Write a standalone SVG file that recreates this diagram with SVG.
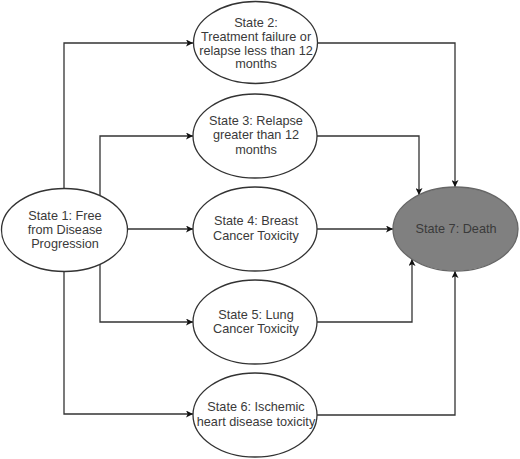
<svg xmlns="http://www.w3.org/2000/svg" width="520" height="459" viewBox="0 0 520 459">
<style>
.node{fill:#ffffff;stroke:#333333;stroke-width:1.3}
.dark{fill:#808080;stroke:#666666;stroke-width:1.3}
text{font-family:"Liberation Sans",Arial,sans-serif;font-size:12.7px;fill:#3a3a3a;text-anchor:middle}
.edge{fill:none;stroke:#333333;stroke-width:1.3}
</style>
<defs>
<marker id="arr" viewBox="0 0 10 10" refX="10" refY="5" markerWidth="7" markerHeight="7" markerUnits="userSpaceOnUse" orient="auto">
<path d="M0,0 L10,5 L0,10 L2.5,5 Z" fill="#111111"/>
</marker>
</defs>
<rect width="520" height="459" fill="#ffffff"/>
<g id="connectors">
<path class="edge" marker-end="url(#arr)" d="M64,189 V43 H193"/>
<path class="edge" marker-end="url(#arr)" d="M100,195 V136 H193"/>
<path class="edge" marker-end="url(#arr)" d="M128,229 H193"/>
<path class="edge" marker-end="url(#arr)" d="M100,264 V322 H193"/>
<path class="edge" marker-end="url(#arr)" d="M64,271 V414 H193"/>
<path class="edge" marker-end="url(#arr)" d="M318,43 H455 V187"/>
<path class="edge" marker-end="url(#arr)" d="M317,136 H419 V195"/>
<path class="edge" marker-end="url(#arr)" d="M317,229 H393"/>
<path class="edge" marker-end="url(#arr)" d="M317,322 H412 V259"/>
<path class="edge" marker-end="url(#arr)" d="M317,415 H455 V271"/>
</g>
<g id="state1">
<ellipse class="node" cx="64.5" cy="230" rx="63" ry="41.5"/>
<text x="65" y="220">State 1: Free</text>
<text x="65" y="234">from Disease</text>
<text x="65" y="248">Progression</text>
</g>
<g id="state2">
<ellipse class="node" cx="255.5" cy="42.5" rx="62" ry="41"/>
<text x="256" y="27">State 2:</text>
<text x="256" y="41">Treatment failure or</text>
<text x="256" y="55">relapse less than 12</text>
<text x="256" y="68">months</text>
</g>
<g id="state3">
<ellipse class="node" cx="255" cy="136" rx="62" ry="42"/>
<text x="256" y="125">State 3: Relapse</text>
<text x="256" y="139">greater than 12</text>
<text x="256" y="154">months</text>
</g>
<g id="state4">
<ellipse class="node" cx="255" cy="229" rx="62" ry="42"/>
<text x="256" y="225">State 4: Breast</text>
<text x="256" y="240">Cancer Toxicity</text>
</g>
<g id="state5">
<ellipse class="node" cx="255" cy="322" rx="62" ry="42"/>
<text x="256" y="319">State 5: Lung</text>
<text x="256" y="333">Cancer Toxicity</text>
</g>
<g id="state6">
<ellipse class="node" cx="255" cy="415" rx="62" ry="42"/>
<text x="256" y="411">State 6: Ischemic</text>
<text x="256" y="426">heart disease toxicity</text>
</g>
<g id="state7">
<ellipse class="dark" cx="455.5" cy="229" rx="62.5" ry="42"/>
<text x="456" y="233">State 7: Death</text>
</g>
</svg>
